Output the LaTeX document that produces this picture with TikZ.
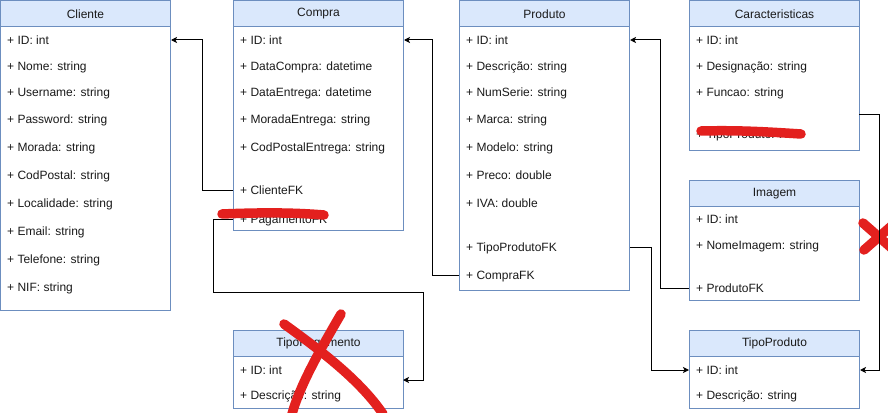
\documentclass[tikz,border=0pt]{standalone}
\usepackage{fontspec}
\setmainfont{Liberation Sans}
\usetikzlibrary{arrows.meta}
\definecolor{hdrfill}{HTML}{DAE8FC}
\definecolor{hdrline}{HTML}{6C8EBF}
\definecolor{mark}{HTML}{E3201E}
\definecolor{txt}{HTML}{1A1A1A}
\tikzset{
  x=1pt, y=-1pt,
  hdr/.style={draw=hdrline, fill=hdrfill, line width=1pt, minimum width=170pt, minimum height=26pt, anchor=north west, inner sep=0pt, font=\fontsize{12}{14}\selectfont, text=txt},
  bodybox/.style={draw=hdrline, fill=white, line width=1pt, minimum width=170pt, anchor=north west, inner sep=0pt},
  row/.style={anchor=west, inner sep=0pt, text height=11pt, text depth=2pt, font=\fontsize{12}{14}\selectfont, text=txt},
  conn/.style={draw=black, line width=1pt, -{Stealth[length=6pt,width=6pt,inset=1.5pt]}},
  redmark/.style={draw=mark, line width=9.5pt, line cap=round},
}
\begin{document}
\begin{tikzpicture}
\useasboundingbox (0,0) rectangle (888,412);
\fill[white] (0,0) rectangle (888,412);

% Cliente
\node[hdr] (cliH) at (0,0.5) {Cliente};
\node[bodybox, minimum height=284pt] (cliB) at (0,26) {};
\node[row] (cli1) at (7,40) {+ ID: int};
\node[row] (cli2) at (7,66) {+ Nome: string};
\node[row] (cli3) at (7,92) {+ Username: string};
\node[row] (cli4) at (7,119) {+ Password: string};
\node[row] (cli5) at (7,147) {+ Morada: string};
\node[row] (cli6) at (7,175) {+ CodPostal: string};
\node[row] (cli7) at (7,203) {+ Localidade: string};
\node[row] (cli8) at (7,231) {+ Email: string};
\node[row] (cli9) at (7,259) {+ Telefone: string};
\node[row] (cli10) at (7,287) {+ NIF: string};

% Compra
\node[hdr] (comH) at (233,0.5) {Compra};
\node[bodybox, minimum height=204pt] (comB) at (233,26) {};
\node[row] (com1) at (240,40) {+ ID: int};
\node[row] (com2) at (240,66) {+ DataCompra: datetime};
\node[row] (com3) at (240,92) {+ DataEntrega: datetime};
\node[row] (com4) at (240,119) {+ MoradaEntrega: string};
\node[row] (com5) at (240,147) {+ CodPostalEntrega: string};
\node[row] (com6) at (240,190) {+ ClienteFK};
\node[row] (com7) at (240,219) {+ PagamentoFK};

% Produto
\node[hdr] (proH) at (459,0.5) {Produto};
\node[bodybox, minimum height=264pt] (proB) at (459,26) {};
\node[row] (pro1) at (466,40) {+ ID: int};
\node[row] (pro2) at (466,66) {+ Descrição: string};
\node[row] (pro3) at (466,92) {+ NumSerie: string};
\node[row] (pro4) at (466,119) {+ Marca: string};
\node[row] (pro5) at (466,147) {+ Modelo: string};
\node[row] (pro6) at (466,175) {+ Preco: double};
\node[row] (pro7) at (466,203) {+ IVA: double};
\node[row] (pro8) at (466,247) {+ TipoProdutoFK};
\node[row] (pro9) at (466,275) {+ CompraFK};

% Caracteristicas
\node[hdr] (carH) at (689,0.5) {Caracteristicas};
\node[bodybox, minimum height=124pt] (carB) at (689,26) {};
\node[row] (car1) at (696,40) {+ ID: int};
\node[row] (car2) at (696,66) {+ Designação: string};
\node[row] (car3) at (696,92) {+ Funcao: string};
\node[row] (car4) at (696,134) {+ TipoProdutoFK};
\coordinate (carOut) at (859,114);

% Imagem
\node[hdr] (imgH) at (689,180) {Imagem};
\node[bodybox, minimum height=94pt] (imgB) at (689,206) {};
\node[row] (img1) at (696,219) {+ ID: int};
\node[row] (img2) at (696,245) {+ NomeImagem: string};
\node[row] (img3) at (696,288) {+ ProdutoFK};

% TipoProduto
\node[hdr] (tpH) at (689,330) {TipoProduto};
\node[bodybox, minimum height=52pt] (tpB) at (689,356) {};
\node[row] (tp1) at (696,370) {+ ID: int};
\node[row] (tp2) at (696,395) {+ Descrição: string};

% TipoPagamento
\node[hdr] (pagH) at (233,330) {TipoPagamento};
\node[bodybox, minimum height=52pt] (pagB) at (233,356) {};
\node[row] (pag1) at (240,370) {+ ID: int};
\node[row] (pag2) at (240,395) {+ Descrição: string};
\coordinate (pagIn) at (403,380);

% red mark behind the right connector
\draw[redmark] (863,223) -- (896,252);
\draw[redmark] (864,250) -- (896,222);

% connectors
\draw[conn] (comB.west |- com6) -- ++(-31,0) |- (cliB.east |- cli1);
\draw[conn] (comB.west |- com7) -- ++(-20,0) -- ++(0,73) -- ++(210,0) |- (pagIn);
\draw[conn] (proB.west |- pro9) -- ++(-27,0) |- (comB.east |- com1);
\draw[conn] (imgB.west |- img3) -- ++(-29,0) |- (proB.east |- pro1);
\draw[conn] (proB.east |- pro8) -- ++(21,0) |- (tpB.west |- tp1);
\draw[conn] (carOut) -- ++(20,0) |- (tpB.east |- tp1);

% red marks
\draw[redmark] (222,214) .. controls (270,212) and (300,213) .. (324,215);
\draw[redmark] (701,131) .. controls (740,130) and (770,132) .. (801,134);
\draw[redmark] (284,324) .. controls (320,350) and (360,380) .. (383,414);
\draw[redmark] (341,314) .. controls (320,350) and (300,385) .. (292,414);
\end{tikzpicture}
\end{document}
